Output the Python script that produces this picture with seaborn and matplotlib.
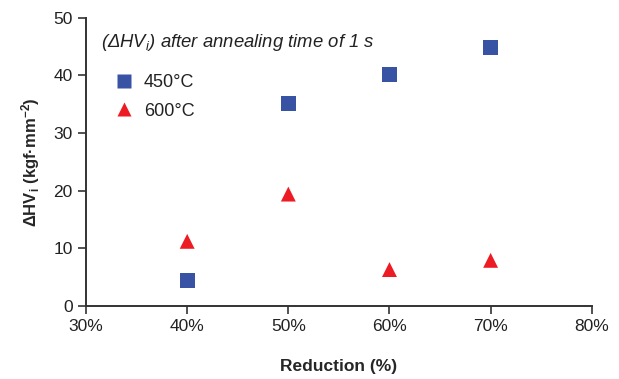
import numpy as np
import pandas as pd
import seaborn as sns
import matplotlib
matplotlib.use("Agg")
import matplotlib.pyplot as plt

# Data
reduction = [40, 50, 60, 70]
hv_450 = [4.4, 35.1, 40.2, 44.9]
hv_600 = [11.2, 19.4, 6.3, 7.9]
temps = ["450°C", "600°C"]
x_ticks = [30, 40, 50, 60, 70, 80]
y_ticks = [0, 10, 20, 30, 40, 50]

df = pd.DataFrame({
    "Reduction": reduction * 2,
    "dHV": hv_450 + hv_600,
    "Temp": [temps[0]] * 4 + [temps[1]] * 4,
})

sns.set_style("ticks")
plt.rcParams['font.family'] = ['Liberation Sans', 'DejaVu Sans']
plt.rcParams['mathtext.fontset'] = 'custom'
plt.rcParams['mathtext.rm'] = 'Liberation Sans'
plt.rcParams['mathtext.it'] = 'Liberation Sans:italic'
plt.rcParams['mathtext.bf'] = 'Liberation Sans:bold'
plt.rcParams['mathtext.default'] = 'regular'

fig = plt.figure(figsize=(6.19, 3.79), dpi=100)
ax = fig.add_axes([0.139, 0.193, 0.817, 0.760])

palette = {temps[0]: "#3953a4", temps[1]: "#ed1c24"}
markers = {temps[0]: "s", temps[1]: "^"}
sns.scatterplot(data=df, x="Reduction", y="dHV", hue="Temp", style="Temp",
                palette=palette, markers=markers, s=115, edgecolor="none",
                ax=ax)

ax.set_xlim(30, 80)
ax.set_ylim(0, 50)
ax.set_xticks(x_ticks)
ax.set_xticklabels([f"{t}%" for t in x_ticks])
ax.set_yticks(y_ticks)
ax.tick_params(labelsize=12.5, length=6, width=1.2, color="#333333", labelcolor="#222222")
for side in ["left", "bottom"]:
    ax.spines[side].set_linewidth(1.4)
    ax.spines[side].set_color("#333333")
sns.despine(ax=ax)

ax.set_xlabel("Reduction (%)", fontsize=12.5, fontweight="bold", labelpad=18)
ax.set_ylabel(r"ΔHV$_{i}$ (kgf·mm$^{-2}$)", fontsize=12, fontweight="bold", labelpad=8)

ax.text(0.03, 0.915, r"(ΔHV$_{i}$) after annealing time of 1 s", transform=ax.transAxes,
        fontsize=13.3, style="italic", color="#222222", va="center")

leg = ax.legend(loc="upper left", bbox_to_anchor=(0.025, 0.83), frameon=False,
                fontsize=13, handletextpad=0.1, borderaxespad=0, labelspacing=0.65,
                markerscale=1.0)
for t in leg.get_texts():
    t.set_color("#222222")

fig.savefig("out.png", dpi=100)
